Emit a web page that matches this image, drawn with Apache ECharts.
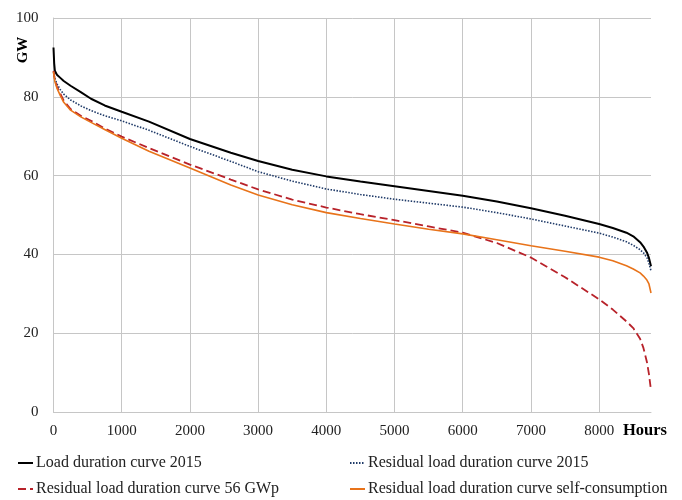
<!DOCTYPE html>
<html>
<head>
<meta charset="utf-8">
<script src="https://cdn.jsdelivr.net/npm/echarts@6/dist/echarts.min.js"></script>
<style>html,body{margin:0;padding:0;background:#fff;}#c{width:682px;height:500px;}</style>
</head>
<body>
<div id="c"></div>
<script>
const hours = [0, 10, 20, 50, 100, 150, 250, 400, 550, 750, 1000, 1400, 2000, 2600, 3000, 3500, 4000, 4500, 5000, 5500, 6000, 6500, 7000, 7500, 8000, 8200, 8400, 8500, 8600, 8650, 8700, 8730, 8760];
const load2015 = [92.5, 88.5, 86.6, 85.6, 84.8, 84.0, 82.8, 81.2, 79.5, 77.8, 76.2, 73.7, 69.3, 65.8, 63.7, 61.5, 59.8, 58.5, 57.3, 56.1, 54.9, 53.4, 51.7, 49.8, 47.7, 46.7, 45.5, 44.6, 43.1, 42.0, 40.5, 39.1, 37.0];
const residual2015 = [86.2, 85.4, 84.7, 83.3, 81.8, 80.7, 79.2, 77.7, 76.5, 75.2, 73.9, 71.5, 67.4, 63.6, 61.0, 58.6, 56.6, 55.2, 54.0, 53.0, 52.0, 50.6, 49.0, 47.2, 45.4, 44.4, 43.2, 42.3, 41.2, 40.4, 39.2, 37.8, 35.8];
const residual56 = [86.6, 85.4, 84.3, 82.6, 80.8, 79.0, 76.9, 75.2, 73.9, 72.0, 69.9, 67.0, 62.8, 59.0, 56.5, 53.9, 51.9, 50.2, 48.7, 47.1, 45.5, 42.9, 39.2, 34.2, 28.6, 26.0, 23.0, 21.3, 18.6, 16.2, 12.7, 9.6, 5.5];
const residualSelf = [86.4, 85.1, 83.9, 82.2, 80.3, 78.6, 76.6, 74.9, 73.5, 71.7, 69.5, 66.2, 61.9, 57.6, 55.1, 52.6, 50.6, 49.1, 47.7, 46.4, 45.2, 43.7, 42.2, 40.8, 39.3, 38.4, 37.1, 36.3, 35.3, 34.5, 33.5, 32.5, 30.2];
const names = ['Load duration curve 2015', 'Residual load duration curve 2015', 'Residual load duration curve 56 GWp', 'Residual load duration curve self-consumption'];

const pair = arr => hours.map((h, i) => [h, arr[i]]);
const font = '"Liberation Serif", "Times New Roman", serif';
const grey = '#c6c6c6';

const legendBase = {
  orient: 'vertical', top: 455, padding: 0, itemWidth: 15, itemHeight: 10, itemGap: 10,
  itemStyle: { opacity: 0 },
  textStyle: { fontFamily: font, fontSize: 16, color: '#222', padding: [0, 0, 0, -2] }
};

const chart = echarts.init(document.getElementById('c'));
chart.setOption({
  animation: false,
  backgroundColor: '#fff',
  grid: { left: 53.5, right: 31, top: 18, bottom: 88 },
  xAxis: {
    type: 'value', min: 0, max: 8760, interval: 1000,
    axisLine: { show: true, lineStyle: { color: grey } },
    axisTick: { show: false },
    axisLabel: { showMaxLabel: false, margin: 12, fontFamily: font, fontSize: 15, color: '#222', formatter: v => String(v) },
    splitLine: { show: true, showMaxLine: false, lineStyle: { color: grey, width: 1 } }
  },
  yAxis: {
    type: 'value', min: 0, max: 100, interval: 20,
    axisLine: { show: true, lineStyle: { color: grey } },
    axisTick: { show: false },
    axisLabel: { margin: 15, fontFamily: font, fontSize: 15, color: '#222' },
    splitLine: { show: true, lineStyle: { color: grey, width: 1 } }
  },
  legend: [
    Object.assign({}, legendBase, { data: [names[0], names[2]], left: 17 }),
    Object.assign({}, legendBase, { data: [names[1], names[3]], left: 349 })
  ],
  graphic: [
    { type: 'text', x: 23, y: 50, rotation: Math.PI / 2,
      style: { text: 'GW', font: 'bold 15px ' + font, fill: '#000', align: 'center', verticalAlign: 'middle' } },
    { type: 'text', x: 623, y: 431,
      style: { text: 'Hours', font: 'bold 16.5px ' + font, fill: '#000', align: 'left', verticalAlign: 'middle' } }
  ],
  series: [
    { name: names[0], type: 'line', data: pair(load2015), symbol: 'none',
      lineStyle: { color: '#000', width: 2 }, itemStyle: { color: '#000' } },
    { name: names[1], type: 'line', data: pair(residual2015), symbol: 'none',
      lineStyle: { color: '#1f3a68', width: 1.6, type: [1.5, 1.5] }, itemStyle: { color: '#1f3a68' } },
    { name: names[2], type: 'line', data: pair(residual56), symbol: 'none',
      lineStyle: { color: '#b8222a', width: 1.8, type: [8, 4] }, itemStyle: { color: '#b8222a' } },
    { name: names[3], type: 'line', data: pair(residualSelf), symbol: 'none',
      lineStyle: { color: '#e8731a', width: 1.6 }, itemStyle: { color: '#e8731a' } }
  ]
});
</script>
</body>
</html>
